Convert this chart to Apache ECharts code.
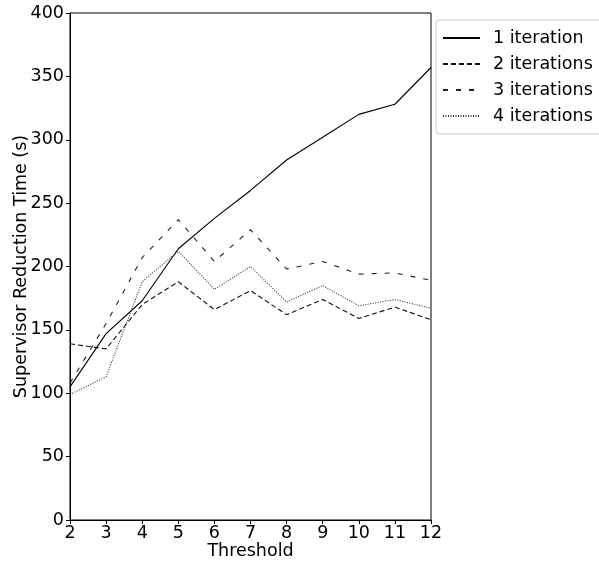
<!DOCTYPE html>
<html>
<head>
<meta charset="utf-8">
<script src="https://cdn.jsdelivr.net/npm/echarts@6/dist/echarts.min.js"></script>
<style>
html,body{margin:0;padding:0;background:#fff;}
#main{width:599px;height:563px;}
</style>
</head>
<body>
<div id="main"></div>
<script>
var thresholds = [2, 3, 4, 5, 6, 7, 8, 9, 10, 11, 12];
var iter1 = [105, 147, 173, 214, 238, 260, 284, 302, 320, 328, 357];
var iter2 = [139, 135, 170, 188, 166, 181, 162, 174, 159, 168, 158];
var iter3 = [108, 155, 207, 237, 204, 229, 198, 204, 194, 195, 189];
var iter4 = [99, 113, 188, 212, 182, 200, 172, 185, 169, 174, 167];

var chart = echarts.init(document.getElementById('main'));
var font = 'DejaVu Sans';
var fs = 17.5;

function pairs(vals){
    var out = [];
    for(var i = 0; i < thresholds.length; i++){
        out.push([thresholds[i], vals[i]]);
    }
    return out;
}

function mkSeries(name, vals, color, type){
    return {
        name: name,
        type: 'line',
        data: pairs(vals),
        symbol: 'none',
        lineStyle: {color: color, width: 1.1, type: type},
        itemStyle: {color: color},
        animation: false
    };
}

var option = {
    backgroundColor: '#fff',
    grid: {left: 70, right: 168, top: 13, bottom: 43, containLabel: false, outerBoundsMode: 'none'},
    legend: {
        left: 436,
        top: 20,
        orient: 'vertical',
        itemWidth: 37,
        itemHeight: 14,
        itemGap: 8,
        padding: [9, 8, 9, 6],
        borderColor: '#ccc',
        borderWidth: 1,
        borderRadius: 3,
        itemStyle: {color: 'rgba(0,0,0,0)', borderWidth: 0, opacity: 0},
        textStyle: {fontFamily: font, fontSize: fs, color: '#000', padding: [0, 0, 0, 8]},
        data: ['1 iteration', '2 iterations', '3 iterations', '4 iterations']
    },
    xAxis: {
        type: 'value',
        min: 2,
        max: 12,
        interval: 1,
        name: 'Threshold',
        nameLocation: 'middle',
        nameGap: 22,
        nameMoveOverlap: false,
        nameTextStyle: {fontFamily: font, fontSize: fs, color: '#000'},
        axisLine: {lineStyle: {color: '#000', width: 1}},
        axisTick: {show: true, length: 4, inside: false, lineStyle: {color: '#000'}},
        axisLabel: {fontFamily: font, fontSize: fs, color: '#000', margin: 4},
        splitLine: {show: false}
    },
    yAxis: {
        type: 'value',
        min: 0,
        max: 400,
        interval: 50,
        name: 'Supervisor Reduction Time (s)',
        nameLocation: 'middle',
        nameGap: 40,
        nameMoveOverlap: false,
        nameTextStyle: {fontFamily: font, fontSize: fs, color: '#000'},
        axisLine: {show: true, lineStyle: {color: '#000', width: 1}},
        axisTick: {show: true, length: 4, lineStyle: {color: '#000'}},
        axisLabel: {fontFamily: font, fontSize: fs, color: '#000', margin: 6},
        splitLine: {show: false}
    },
    graphic: [{
        type: 'rect',
        shape: {x: 70, y: 13, width: 361, height: 507},
        style: {fill: 'none', stroke: '#000', lineWidth: 1},
        silent: true,
        z: 10
    }],
    series: [
        mkSeries('1 iteration', iter1, '#000', 'solid'),
        mkSeries('2 iterations', iter2, '#111', [5, 3]),
        mkSeries('3 iterations', iter3, '#222', [5, 8]),
        mkSeries('4 iterations', iter4, '#333', [1, 1.5])
    ]
};
chart.setOption(option);
</script>
</body>
</html>
